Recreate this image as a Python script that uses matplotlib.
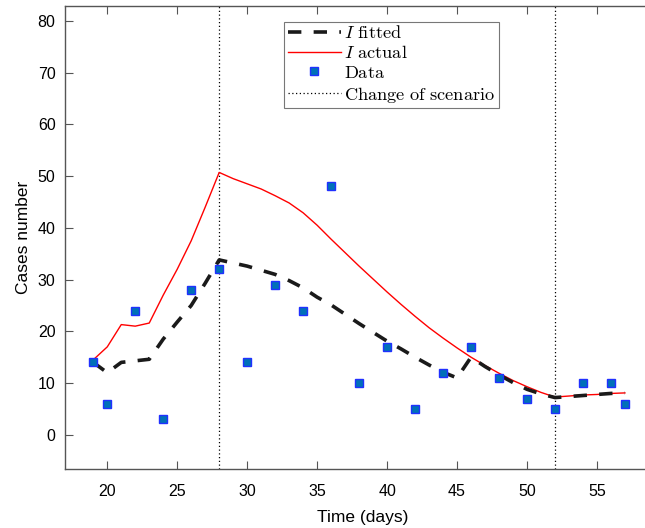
import matplotlib
matplotlib.use('Agg')
import numpy as np
import matplotlib.pyplot as plt

plt.rcParams['font.family'] = ['Liberation Sans', 'DejaVu Sans']
plt.rcParams['mathtext.fontset'] = 'cm'

# observed data
data_days = [19, 20, 22, 24, 26, 28, 30, 32, 34, 36, 38, 40, 42, 44, 46, 48, 50, 52, 54, 56, 57]
data_cases = [14, 6, 24, 3, 28, 32, 14, 29, 24, 48, 10, 17, 5, 12, 17, 11, 7, 5, 10, 10, 6]

# model curves (daily)
days = list(range(19, 58))
i_fitted = [14, 12, 14, 14.3, 14.6, 18.5, 21.8, 25, 29.3, 33.8,
            33.2, 32.6, 31.8, 31.0, 29.8, 28.4, 26.6, 25.1, 23.3, 21.5,
            19.8, 18.1, 16.6, 15.0, 13.5, 12.1, 11.0, 15.0, 13.2, 11.6,
            10.1, 8.8, 7.9, 7.2, 7.4, 7.6, 7.8, 8.0, 8.1]
i_actual = [14.5, 17, 21.3, 21, 21.6, 27, 32, 37.5, 44, 50.7,
            49.5, 48.5, 47.5, 46.2, 44.8, 42.9, 40.5, 37.8, 35.2, 32.6,
            30.1, 27.6, 25.2, 22.9, 20.7, 18.7, 16.8, 15.0, 13.4, 11.9,
            10.5, 9.3, 8.2, 7.3, 7.5, 7.7, 7.8, 8.0, 8.1]

scenario_changes = [28, 52]

W, H = 645, 528
fig = plt.figure(figsize=(W / 100, H / 100), dpi=100)
ax_l, ax_r, ax_t, ax_b = 65.3, 659.9, 6.3, 469
ax = fig.add_axes([ax_l / W, 1 - ax_b / H, (ax_r - ax_l) / W, (ax_b - ax_t) / H])

ax.plot(days, i_fitted, color='#1a1a1a', lw=2.6, dashes=(3.7, 3.4), label=r'$I\ \mathrm{fitted}$', zorder=3)
ax.plot(days, i_actual, color='red', lw=1.0, label=r'$I\ \mathrm{actual}$', zorder=2)
ax.plot(data_days, data_cases, ls='none', marker='s', ms=5.5, mfc='#0070b8', mec='#2030ff',
        mew=1.0, label=r'$\mathrm{Data}$', zorder=4)
for i, xc in enumerate(scenario_changes):
    ax.axvline(xc, color='black', lw=0.9, ls=(0, (1, 2)),
               label=r'$\mathrm{Change\ of\ scenario}$' if i == 0 else None, zorder=1)

ax.set_xlim(17, 59.5)
ax.set_ylim(-6.6, 82.8)
ax.set_xticks([20, 25, 30, 35, 40, 45, 50, 55])
ax.set_yticks([0, 10, 20, 30, 40, 50, 60, 70, 80])
ax.tick_params(direction='in', length=6, width=0.8, color='#555555', labelsize=11.5,
               top=True, right=True)
ax.tick_params(axis='x', pad=11)
ax.tick_params(axis='y', pad=7)
for s in ax.spines.values():
    s.set_color('#555555')
    s.set_linewidth(1.0)

ax.set_xlabel('Time (days)', fontsize=12.5, labelpad=8)
ax.set_ylabel('Cases number', fontsize=12.5, labelpad=5)

leg = ax.legend(loc='upper left', bbox_to_anchor=(284 / W, 1 - 21.7 / H), bbox_transform=fig.transFigure,
                fontsize=13.2, frameon=True, fancybox=False, edgecolor='#555555', handlelength=2.9,
                handletextpad=0.2, labelspacing=0.15, borderpad=0.2, borderaxespad=0)
leg.get_frame().set_linewidth(0.8)

fig.savefig('out.png', dpi=100)
